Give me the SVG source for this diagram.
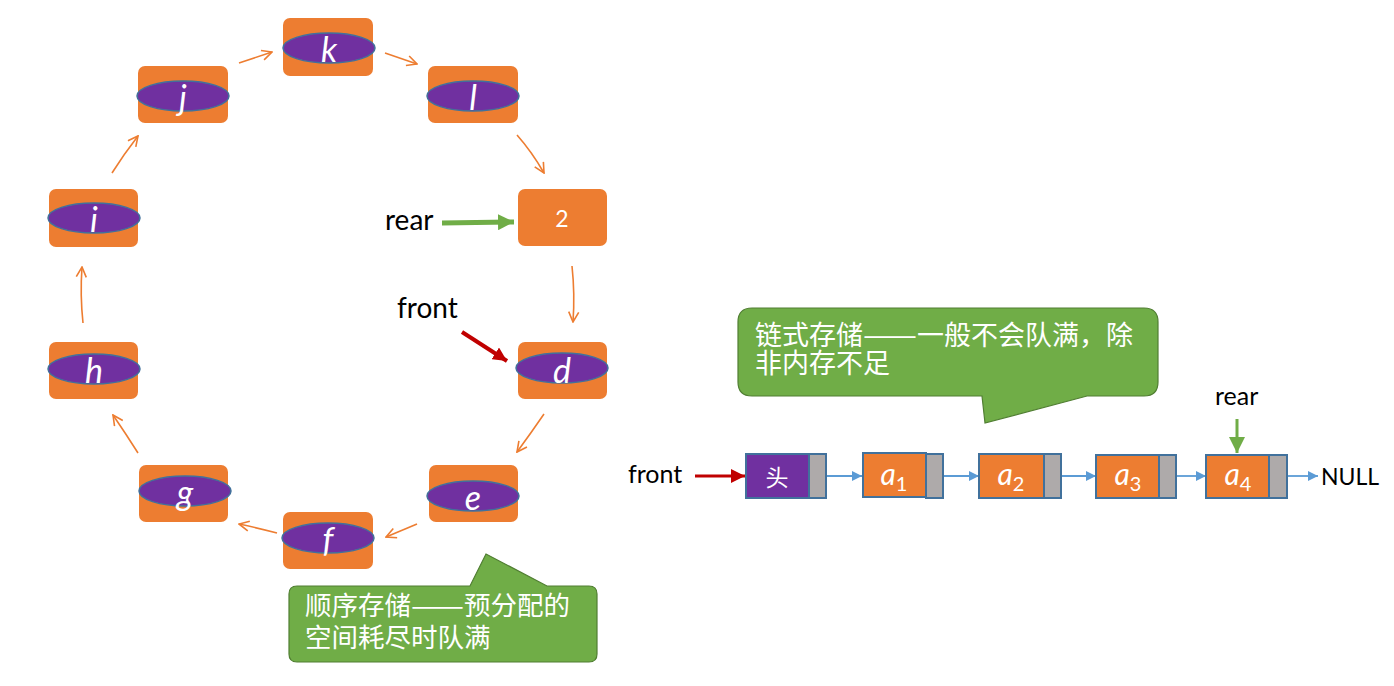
<svg xmlns="http://www.w3.org/2000/svg" width="1394" height="686" viewBox="0 0 1394 686">
<style>
.box{fill:#ED7D31;}
.ell{fill:#7030A0;stroke:#41719C;stroke-width:1.5;}
.lt{font-family:Lato,"Open Sans",sans-serif;font-style:italic;font-size:34px;fill:#fff;text-anchor:middle;}
.lbl{font-family:Lato,"Open Sans",sans-serif;font-size:28px;fill:#000;}
.lbl2{font-family:Lato,"Open Sans",sans-serif;font-size:25px;fill:#000;}
.con{fill:none;stroke:#ED7D31;stroke-width:1.6;}
.blue{fill:none;stroke:#5B9BD5;stroke-width:1.8;}
.cell{stroke:#41719C;stroke-width:2;}
.gray{fill:#AEAAAA;stroke:#41719C;stroke-width:2;}
.cjk{font-family:"Noto Sans CJK SC",sans-serif;font-size:26.5px;fill:#fff;}
.cjk2{font-family:"Noto Sans CJK SC",sans-serif;font-size:27px;fill:#fff;}
.call{fill:#70AD47;stroke:#507E32;stroke-width:1.2;}
.sub{font-family:Lato,"Open Sans",sans-serif;font-size:30px;fill:#fff;text-anchor:middle;font-style:italic;}
.idx{font-size:20px;font-style:normal;}
</style>
<defs>
<marker id="open" viewBox="0 0 12 12" refX="11" refY="6" markerWidth="12" markerHeight="12" markerUnits="userSpaceOnUse" orient="auto">
<path d="M1,1 L11,6 L1,11" fill="none" stroke="#ED7D31" stroke-width="1.6"/>
</marker>
<marker id="bl" viewBox="0 0 10 10" refX="10" refY="5" markerWidth="10" markerHeight="10" markerUnits="userSpaceOnUse" orient="auto">
<path d="M0,0 L10,5 L0,10 Z" fill="#5B9BD5"/>
</marker>
<marker id="gr" viewBox="0 0 10 10" refX="10" refY="5" markerWidth="16" markerHeight="16" markerUnits="userSpaceOnUse" orient="auto">
<path d="M0,0 L10,5 L0,10 Z" fill="#70AD47"/>
</marker>
<marker id="rd" viewBox="0 0 10 10" refX="10" refY="5" markerWidth="14" markerHeight="14" markerUnits="userSpaceOnUse" orient="auto">
<path d="M0,0 L10,5 L0,10 Z" fill="#C00000"/>
</marker>
</defs>

<g id="node-k"><rect class="box" x="283" y="18" width="90" height="58" rx="7"/><ellipse class="ell" cx="329" cy="48" rx="46" ry="15"/><text class="lt" x="329" y="62">k</text></g>
<g id="node-j"><rect class="box" x="138" y="66" width="90" height="57" rx="7"/><ellipse class="ell" cx="183" cy="96" rx="46" ry="15"/><text class="lt" x="183" y="110">j</text></g>
<g id="node-l"><rect class="box" x="428" y="66" width="90" height="57" rx="7"/><ellipse class="ell" cx="473" cy="96" rx="46" ry="15"/><text class="lt" x="473" y="110">l</text></g>
<g id="node-2"><rect class="box" x="518" y="189" width="89" height="57" rx="7"/><text x="562" y="227" font-family="Lato,'Open Sans',sans-serif" font-size="23" fill="#fff" text-anchor="middle">2</text></g>
<g id="node-d"><rect class="box" x="518" y="342" width="89" height="57" rx="7"/><ellipse class="ell" cx="562" cy="368" rx="46" ry="15"/><text class="lt" x="562" y="383">d</text></g>
<g id="node-e"><rect class="box" x="429" y="465" width="89" height="57" rx="7"/><ellipse class="ell" cx="473" cy="496" rx="46" ry="15"/><text class="lt" x="473" y="510">e</text></g>
<g id="node-f"><rect class="box" x="283" y="512" width="90" height="57" rx="7"/><ellipse class="ell" cx="328" cy="538" rx="46" ry="15"/><text class="lt" x="328" y="552">f</text></g>
<g id="node-g"><rect class="box" x="139" y="465" width="89" height="57" rx="7"/><ellipse class="ell" cx="185" cy="491" rx="46" ry="15"/><text class="lt" x="185" y="505">g</text></g>
<g id="node-h"><rect class="box" x="49" y="342" width="89" height="57" rx="7"/><ellipse class="ell" cx="94" cy="369" rx="46" ry="15"/><text class="lt" x="94" y="383">h</text></g>
<g id="node-i"><rect class="box" x="49" y="189" width="89" height="58" rx="7"/><ellipse class="ell" cx="94" cy="218" rx="46" ry="15"/><text class="lt" x="94" y="232">i</text></g>

<g id="connectors">
<path class="con" d="M239,63 L272,52" marker-end="url(#open)"/>
<path class="con" d="M385,53 L417,64" marker-end="url(#open)"/>
<path class="con" d="M517,135 Q532,152 544,173" marker-end="url(#open)"/>
<path class="con" d="M572,266 Q575,294 573,322" marker-end="url(#open)"/>
<path class="con" d="M544,414 Q531,433 517,452" marker-end="url(#open)"/>
<path class="con" d="M417,524 L386,537" marker-end="url(#open)"/>
<path class="con" d="M277,533 Q258,528 239,524" marker-end="url(#open)"/>
<path class="con" d="M138,453 Q126,434 113,415" marker-end="url(#open)"/>
<path class="con" d="M83,323 Q80,295 82,267" marker-end="url(#open)"/>
<path class="con" d="M112,173 Q124,154 138,136" marker-end="url(#open)"/>
<path d="M442,223 L514,222" fill="none" stroke="#70AD47" stroke-width="5" marker-end="url(#gr)"/>
<path d="M462,332 L507,361" fill="none" stroke="#C00000" stroke-width="4" marker-end="url(#rd)"/>
<path d="M695,476 L745,476" fill="none" stroke="#C00000" stroke-width="3" marker-end="url(#rd)"/>
<path class="blue" d="M826,476 L862,476" marker-end="url(#bl)"/>
<path class="blue" d="M943,476 L979,476" marker-end="url(#bl)"/>
<path class="blue" d="M1061,476 L1096,476" marker-end="url(#bl)"/>
<path class="blue" d="M1176,476 L1206,476" marker-end="url(#bl)"/>
<path class="blue" d="M1287,476 L1318,476" marker-end="url(#bl)"/>
<path d="M1237,419 L1237,453" fill="none" stroke="#70AD47" stroke-width="3" marker-end="url(#gr)"/>
</g>

<text class="lbl" x="385" y="230">rear</text>
<text class="lbl" x="397" y="318">front</text>

<g id="callout-seq">
<path class="call" d="M297,586 L470,586 L486,554 L547,586 L589,586 Q597,586 597,594 L597,654 Q597,662 589,662 L297,662 Q289,662 289,654 L289,594 Q289,586 297,586 Z"/>
<text class="cjk" x="305" y="615">顺序存储<tspan x="411" textLength="53" lengthAdjust="spacingAndGlyphs">——</tspan><tspan x="464">预分配的</tspan></text>
<text class="cjk" x="305" y="647">空间耗尽时队满</text>
</g>

<g id="callout-link">
<path class="call" d="M752,308 L1144,308 Q1158,308 1158,322 L1158,382 Q1158,396 1144,396 L1087,396 L985,423 L982,396 L752,396 Q738,396 738,382 L738,322 Q738,308 752,308 Z"/>
<text class="cjk2" x="755" y="345">链式存储<tspan x="863" textLength="54" lengthAdjust="spacingAndGlyphs">——</tspan><tspan x="917">一般不会队满，除</tspan></text>
<text class="cjk2" x="755" y="373">非内存不足</text>
</g>

<text class="lbl2" x="628" y="483">front</text>
<text class="lbl2" x="1215" y="405">rear</text>
<text class="lbl2" x="1321" y="485" style="font-size:23px">NULL</text>

<g id="node-head"><rect class="cell" x="746" y="454" width="63" height="44" fill="#7030A0"/><rect class="gray" x="809" y="454" width="17" height="44"/><text x="777" y="486" font-family="'Noto Sans CJK SC',sans-serif" font-size="23" fill="#fff" text-anchor="middle">头</text></g>
<g id="node-a1"><rect class="cell" x="863" y="453" width="63" height="44" fill="#ED7D31"/><rect class="gray" x="926" y="454" width="17" height="44"/><text class="sub" x="894" y="485">a<tspan class="idx" dy="6">1</tspan></text></g>
<g id="node-a2"><rect class="cell" x="979" y="454" width="65" height="44" fill="#ED7D31"/><rect class="gray" x="1044" y="454" width="17" height="44"/><text class="sub" x="1011" y="485">a<tspan class="idx" dy="6">2</tspan></text></g>
<g id="node-a3"><rect class="cell" x="1096" y="455" width="63" height="43" fill="#ED7D31"/><rect class="gray" x="1159" y="455" width="17" height="43"/><text class="sub" x="1128" y="485">a<tspan class="idx" dy="6">3</tspan></text></g>
<g id="node-a4"><rect class="cell" x="1206" y="455" width="63" height="43" fill="#ED7D31"/><rect class="gray" x="1269" y="455" width="18" height="43"/><text class="sub" x="1238" y="485">a<tspan class="idx" dy="6">4</tspan></text></g>
</svg>
